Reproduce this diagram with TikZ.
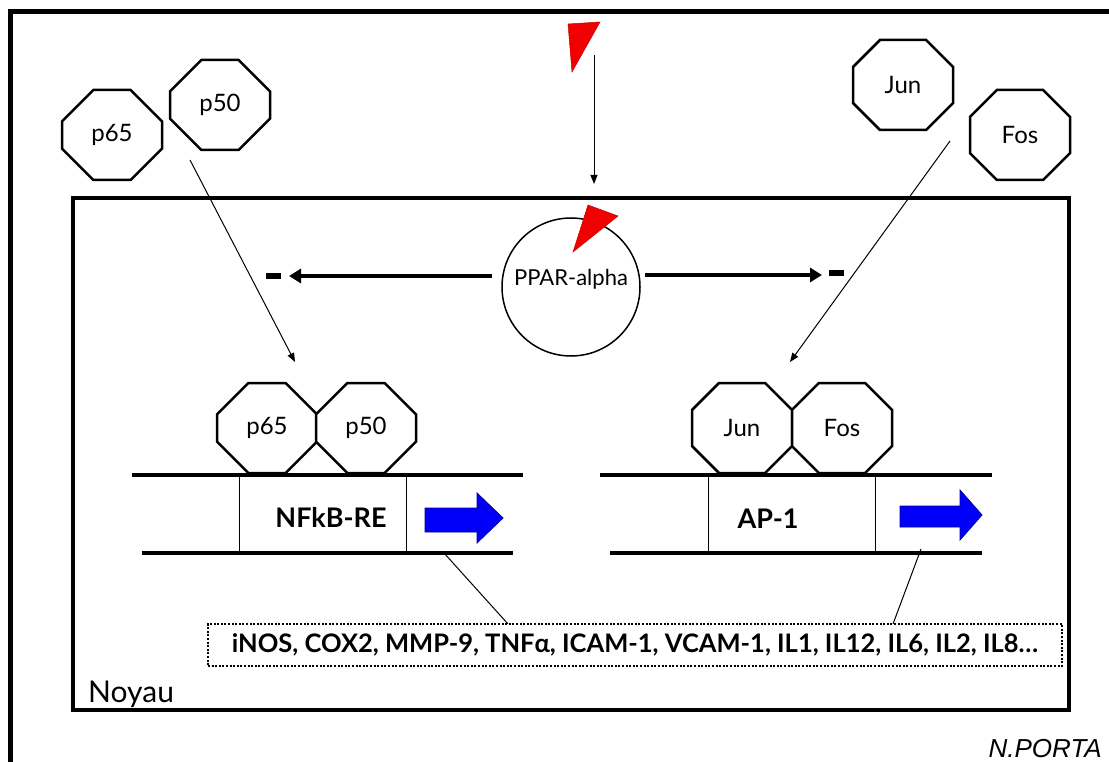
\documentclass[tikz,border=0pt]{standalone}
\usepackage{fontspec}
\setmainfont{Lato}
\newfontfamily\arialfont{Liberation Sans}
\usetikzlibrary{shapes.misc,arrows.meta}
\definecolor{redtri}{RGB}{240,0,0}
\definecolor{bluearr}{RGB}{0,0,250}
\tikzset{
  octo/.style={chamfered rectangle, chamfered rectangle xsep=26pt, chamfered rectangle ysep=26pt,
    minimum width=100pt, minimum height=90pt, inner sep=0pt, draw, line width=2.5pt, fill=white,
    font=\fontsize{24}{26}\selectfont},
  thin arrow/.style={line width=1pt, -{Triangle[length=9pt,width=7pt]}},
  thick arrow/.style={line width=4pt, -{Triangle[length=12pt,width=14pt]}},
  dnaline/.style={line width=4pt},
  sepline/.style={line width=1pt},
  genearrow/.style={draw=blue!60!black, line width=0.8pt, fill=bluearr},
  redwedge/.style={fill=redtri, draw=red!80!black, line width=0.5pt},
  minus/.style={fill=black, draw=none, minimum width=15pt, minimum height=6pt, inner sep=0pt, rectangle},
  boldlabel/.style={font=\bfseries\fontsize{27}{29}\selectfont, inner sep=0pt},
}
\begin{document}
\begin{tikzpicture}[x=1pt,y=-1pt]
\useasboundingbox (0,0) rectangle (1109,762);
\clip (0,0) rectangle (1109,762);
% outer frame (cut by the page)
\draw[line width=5pt] (10,790) -- (10,12) -- (1140,12);
% nucleus
\draw[line width=4pt] (73,198) rectangle (1069,710);
\node[anchor=base west, font=\fontsize{30}{32}\selectfont, inner sep=0pt] (noyau) at (88,702) {Noyau};
\node[anchor=base east, font=\arialfont\itshape\fontsize{26}{28}\selectfont, inner sep=0pt] (author) at (1102,757) {N.PORTA};

% free factors
\node[octo] (p65t) at (112,135) {p65};
\node[octo] (p50t) at (220,105) {p50};
\node[octo] (junt) at (903,85) {Jun};
\node[octo] (fost) at (1020,135) {Fos};

% ligand
\draw[redwedge] (568,24) -- (600,22) -- (572,72) -- cycle;
\coordinate (lig) at (594,55);
\coordinate (ligend) at (594,184);
\draw[thin arrow] (lig) -- (ligend);

% PPAR
\node[circle, draw, line width=1.5pt, minimum size=138pt, inner sep=0pt] (ppar) at (571,287) {};
\node[font=\fontsize{22}{24}\selectfont, inner sep=0pt] (ppartxt) at (571,279) {PPAR-alpha};
\draw[redwedge] (588,205) -- (618,216) -- (573,252) -- cycle;
\node[minus] (minl) at (273,276) {};
\node[minus] (minr) at (836,273) {};
\coordinate (la) at (492,276);
\coordinate (lb) at (289,276);
\coordinate (ra) at (645,275);
\coordinate (rb) at (822,275);
\draw[thick arrow] (la) -- (lb);
\draw[thick arrow] (ra) -- (rb);

% DNA NFkB
\draw[dnaline] (132,475) -- (523,475);
\draw[dnaline] (142,553) -- (513,553);
\draw[sepline] (239,475) -- (239,553);
\draw[sepline] (406,475) -- (406,553);
\node[boldlabel] (nfkb) at (331,517) {NFkB-RE};
\draw[genearrow] (425,508) -- (477,508) -- (477,493) -- (503,518) -- (477,543) -- (477,532) -- (425,532) -- cycle;
\node[octo] (p65b) at (267,428) {p65};
\node[octo] (p50b) at (366,428) {p50};

% DNA AP-1
\draw[dnaline] (600,475) -- (992,475);
\draw[dnaline] (610,553) -- (982,553);
\draw[sepline] (708,475) -- (708,553);
\draw[sepline] (875,475) -- (875,553);
\node[boldlabel] (ap1) at (768,519) {AP-1};
\draw[genearrow] (900,506) -- (960,506) -- (960,490) -- (982,515) -- (960,540) -- (960,527) -- (900,527) -- cycle;
\node[octo] (junb) at (742,428) {Jun};
\node[octo] (fosb) at (842,428) {Fos};

% gene list
\node[draw, line width=2.2pt, dash pattern=on 2pt off 1.6pt, minimum width=854pt, minimum height=42pt, inner sep=0pt,
      font=\bfseries\fontsize{25.5}{28}\selectfont] (genes) at (635,645) {iNOS, COX2, MMP-9, TNFα, ICAM-1, VCAM-1, IL1, IL12, IL6, IL2, IL8…};

% arrows from free factors
\coordinate (s1) at (190,160);
\coordinate (e1) at (295,362);
\coordinate (s2) at (950,141);
\coordinate (e2) at (790,362);
\draw[thin arrow] (s1) -- (e1);
\draw[thin arrow] (s2) -- (e2);
% target genes
\coordinate (g1) at (444,553);
\coordinate (g2) at (921,549);
\coordinate (t1) at (508,624);
\coordinate (t2) at (893,624);
\draw[line width=1pt] (g1) -- (t1);
\draw[line width=1pt] (g2) -- (t2);
\end{tikzpicture}
\end{document}
